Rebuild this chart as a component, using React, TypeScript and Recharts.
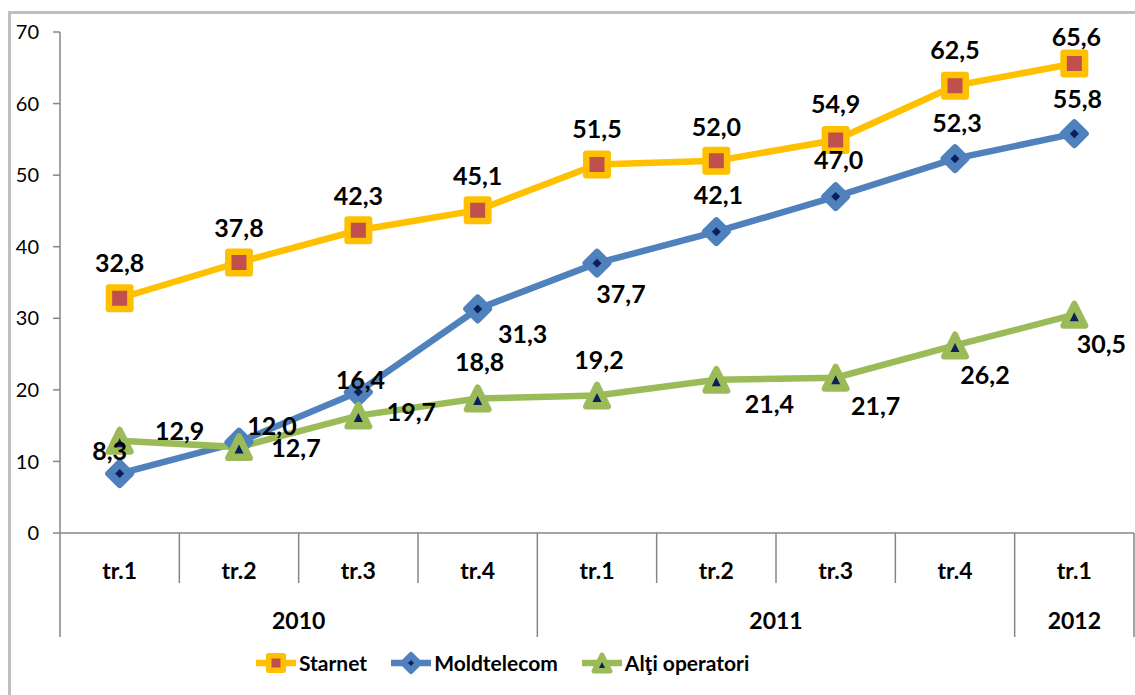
import React from 'react';
import { LineChart, Line, XAxis, YAxis, Legend, LabelList } from 'recharts';

const quarters = ['tr.1', 'tr.2', 'tr.3', 'tr.4', 'tr.1', 'tr.2', 'tr.3', 'tr.4', 'tr.1'];
const yearLabels = ['2010', '2011', '2012'];
const yearSpans = [4, 4, 1];
const starnet = [32.8, 37.8, 42.3, 45.1, 51.5, 52.0, 54.9, 62.5, 65.6];
const moldtelecom = [8.3, 12.7, 19.7, 31.3, 37.7, 42.1, 47.0, 52.3, 55.8];
const altiOperatori = [12.9, 12.0, 16.4, 18.8, 19.2, 21.4, 21.7, 26.2, 30.5];
const yTicks = [0, 10, 20, 30, 40, 50, 60, 70];
const seriesNames = ['Starnet', 'Moldtelecom', 'Alţi operatori'];

// label placement (dx, dy) relative to each point, in px
const starnetLabelPos = [[0, -36], [0, -35], [0, -35], [0, -35], [0, -36], [0, -35], [0, -37], [0, -37], [2, -27]];
const moldLabelPos = [[-10, -24], [57, 5], [53, 19], [45, 24], [24, 30], [2, -38], [3, -38], [2, -37], [3, -36]];
const altiLabelPos = [[60, -11], [33, -22], [2, -37], [2, -37], [2, -37], [53, 23], [40, 27], [30, 29], [27, 28]];

const data = quarters.map((q, i) => ({
  idx: i,
  q,
  starnet: starnet[i],
  moldtelecom: moldtelecom[i],
  alti: altiOperatori[i],
}));

const FONT = 'Lato, "Open Sans", "Liberation Sans", sans-serif';
const ORANGE = '#FFC000';
const RED = '#C0504D';
const BLUE = '#4F81BD';
const GREEN = '#9BBB59';
const NAVY = '#0A1F5C';
const AXIS = '#868686';

const PLOT_LEFT = 60;
const PLOT_RIGHT = 1134;

const Square = ({ cx, cy, outer = 28, inner = 15 }: any) => {
  const side = (outer + inner) / 2;
  const sw = (outer - inner) / 2;
  return (
    <rect x={cx - side / 2} y={cy - side / 2} width={side} height={side} fill={RED} stroke={ORANGE} strokeWidth={sw} strokeLinejoin="round" />
  );
};

const Diamond = ({ cx, cy, R = 11.5, r = 4.5, sw = 6 }: any) => (
  <g>
    <polygon points={`${cx},${cy - R} ${cx + R},${cy} ${cx},${cy + R} ${cx - R},${cy}`} fill={BLUE} stroke={BLUE} strokeWidth={sw} strokeLinejoin="round" />
    <polygon points={`${cx},${cy - r} ${cx + r},${cy} ${cx},${cy + r} ${cx - r},${cy}`} fill={NAVY} />
  </g>
);

const Triangle = ({ cx, cy, w = 11, h = 11, sw = 6, iw = 4.5, ih = 4.5 }: any) => (
  <g>
    <polygon points={`${cx},${cy - h} ${cx + w},${cy + h} ${cx - w},${cy + h}`} fill={GREEN} stroke={GREEN} strokeWidth={sw} strokeLinejoin="round" />
    <polygon points={`${cx},${cy + 2 - ih} ${cx + iw},${cy + 2 + ih} ${cx - iw},${cy + 2 + ih}`} fill={NAVY} />
  </g>
);

const fmt = (v: number) => v.toFixed(1).replace('.', ',');

const makeLabel = (pos: number[][]) => (props: any) => {
  const { x, y, value, index } = props;
  const [dx, dy] = pos[index] || [0, -30];
  return (
    <text
      key={`l-${index}`}
      x={x + dx}
      y={y + dy}
      textAnchor="middle"
      dominantBaseline="central"
      fontFamily={FONT}
      fontWeight={700}
      fontSize={25}
      fill="#000"
    >
      {fmt(value)}
    </text>
  );
};

const yearStarts: number[] = [];
{
  let acc = 0;
  yearSpans.forEach((s) => {
    yearStarts.push(acc);
    acc += s;
  });
}

const XTick = (props: any) => {
  const { x, y, payload } = props;
  const i = Number(payload.value);
  const band = (PLOT_RIGHT - PLOT_LEFT) / quarters.length;
  const half = payload.offset && payload.offset > 1 ? payload.offset : band / 2;
  const yi = yearStarts.indexOf(i);
  const isStart = yi >= 0;
  const last = i === quarters.length - 1;
  return (
    <g>
      <line x1={x - half} x2={x - half} y1={y} y2={y + (isStart ? 104 : 50)} stroke={AXIS} strokeWidth={1.5} />
      {last && <line x1={x + half} x2={x + half} y1={y} y2={y + 104} stroke={AXIS} strokeWidth={1.5} />}
      <text x={x} y={y + 37} textAnchor="middle" dominantBaseline="central" fontFamily={FONT} fontWeight={700} fontSize={23} fill="#000">
        {quarters[i]}
      </text>
      {isStart && (
        <text
          x={x - half + yearSpans[yi] * half}
          y={y + 87}
          textAnchor="middle"
          dominantBaseline="central"
          fontFamily={FONT}
          fontWeight={700}
          fontSize={23}
          fill="#000"
        >
          {yearLabels[yi]}
        </text>
      )}
    </g>
  );
};

const LegendIcon = ({ kind }: { kind: number }) => (
  <svg width={40} height={28} style={{ display: 'block' }}>
    <line x1={1} x2={39} y1={14} y2={14} stroke={[ORANGE, BLUE, GREEN][kind]} strokeWidth={6.5} strokeLinecap="round" />
    {kind === 0 && <Square cx={20} cy={14} outer={20} inner={9} />}
    {kind === 1 && <Diamond cx={20} cy={14} R={8.5} r={3} sw={5} />}
    {kind === 2 && <Triangle cx={20} cy={14} w={8} h={8} sw={5} iw={3} ih={3} />}
  </svg>
);

const renderLegend = () => (
  <div style={{ display: 'flex', alignItems: 'center', paddingLeft: 256, height: 28 }}>
    {seriesNames.map((n, k) => (
      <div key={n} style={{ display: 'flex', alignItems: 'center', marginRight: 24 }}>
        <LegendIcon kind={k} />
        <span style={{ marginLeft: 3, fontFamily: FONT, fontWeight: 700, fontSize: 21, color: '#000', lineHeight: '28px' }}>{n}</span>
      </div>
    ))}
  </div>
);

export default function App() {
  return (
    <div style={{ position: 'fixed', left: 0, top: 0, width: 1135, height: 695, overflow: 'hidden', background: '#fff' }}>
      <div
        style={{
          position: 'absolute',
          left: 8,
          top: 11,
          width: 1200,
          height: 800,
          borderLeft: '3px solid #BFBFBF',
          borderTop: '3px solid #BFBFBF',
        }}
      />
      <div style={{ position: 'absolute', left: 0, top: 0 }}>
        <LineChart width={1135} height={695} data={data} margin={{ top: 32, right: 1, bottom: 52, left: 10 }}>
          <XAxis
            dataKey="idx"
            type="category"
            scale="band"
            height={110}
            tickLine={false}
            tickSize={0}
            tickMargin={0}
            axisLine={{ stroke: AXIS, strokeWidth: 1.5 }}
            tick={<XTick />}
            interval={0}
          />
          <YAxis
            domain={[0, 70]}
            ticks={yTicks}
            width={50}
            tickSize={7}
            tickMargin={14}
            axisLine={{ stroke: AXIS, strokeWidth: 1.5 }}
            tickLine={{ stroke: AXIS, strokeWidth: 1.5 }}
            tick={{ fontFamily: FONT, fontSize: 20, fill: '#000' }}
            interval={0}
          />
          <Legend
            layout="horizontal"
            verticalAlign="middle"
            align="center"
            content={renderLegend}
            wrapperStyle={{ top: 649, left: 0, width: 1135 }}
          />
          <Line
            dataKey="starnet"
            name={seriesNames[0]}
            stroke={ORANGE}
            strokeWidth={6.5}
            isAnimationActive={false}
            dot={(p: any) => <Square key={`s-${p.index}`} cx={p.cx} cy={p.cy} />}
            activeDot={false}
          >
            <LabelList dataKey="starnet" content={makeLabel(starnetLabelPos)} />
          </Line>
          <Line
            dataKey="moldtelecom"
            name={seriesNames[1]}
            stroke={BLUE}
            strokeWidth={6.5}
            isAnimationActive={false}
            dot={(p: any) => <Diamond key={`m-${p.index}`} cx={p.cx} cy={p.cy} />}
            activeDot={false}
          >
            <LabelList dataKey="moldtelecom" content={makeLabel(moldLabelPos)} />
          </Line>
          <Line
            dataKey="alti"
            name={seriesNames[2]}
            stroke={GREEN}
            strokeWidth={6.5}
            isAnimationActive={false}
            dot={(p: any) => <Triangle key={`a-${p.index}`} cx={p.cx} cy={p.cy} />}
            activeDot={false}
          >
            <LabelList dataKey="alti" content={makeLabel(altiLabelPos)} />
          </Line>
        </LineChart>
      </div>
    </div>
  );
}
